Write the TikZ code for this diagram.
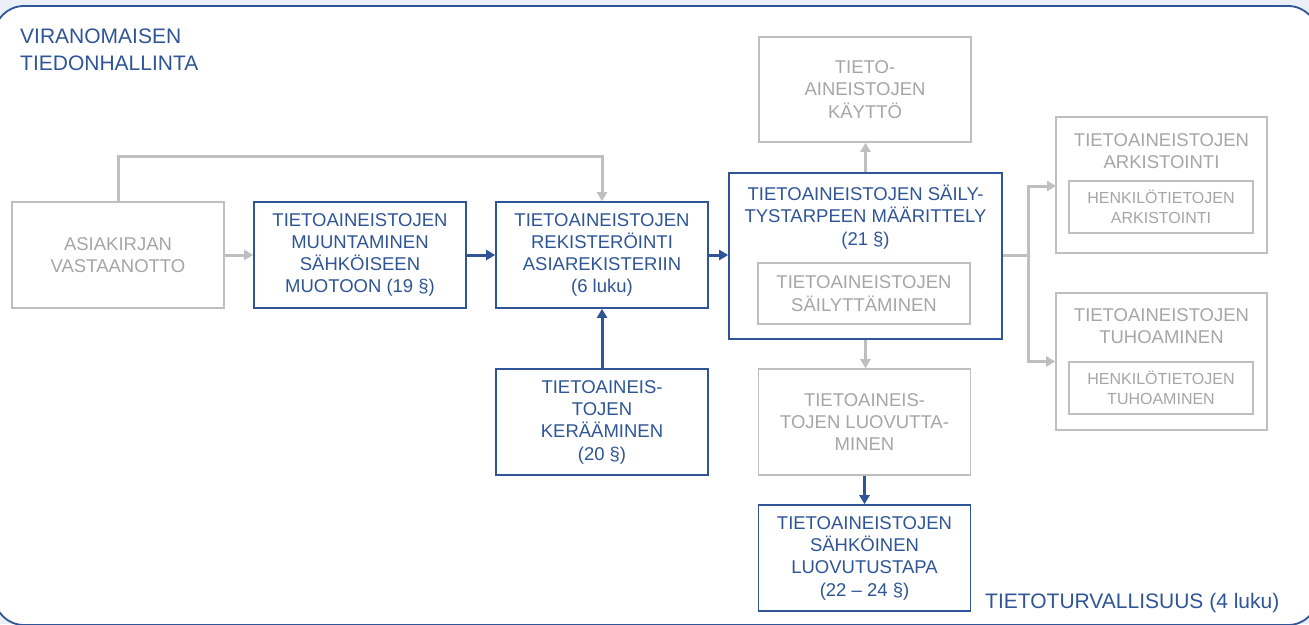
\documentclass[tikz,border=0pt]{standalone}
\usepackage{fontspec}
\setmainfont{Liberation Sans}
\usetikzlibrary{arrows.meta,calc}
\definecolor{dblue}{HTML}{2F5597}
\definecolor{gline}{HTML}{BFBFBF}
\definecolor{gtext}{HTML}{A6A6A6}
\definecolor{bgc}{HTML}{EAEFF8}
\newcommand\bfs{\fontsize{18.5}{22.3}\selectfont}
\newcommand\sfs{\fontsize{16}{19.5}\selectfont}
\newcommand\tfs{\fontsize{21}{26.5}\selectfont}
\tikzset{
  bbox/.style={draw=dblue, line width=1.6pt, text=dblue, align=center, font=\bfs, inner sep=0pt, minimum width=212pt, minimum height=106pt},
  gbox/.style={draw=gline, line width=1.6pt, text=gtext, align=center, font=\bfs, inner sep=0pt, minimum width=212pt, minimum height=106pt},
  btext/.style={text=dblue, align=center, font=\bfs, inner sep=0pt},
  gtxt/.style={text=gtext, align=center, font=\bfs, inner sep=0pt},
  barrow/.style={draw=dblue, line width=3pt, -{Triangle[length=9pt,width=10pt]}},
  garrow/.style={draw=gline, line width=3pt, -{Triangle[length=9pt,width=10pt]}},
  gline/.style={draw=gline, line width=3pt},
}
\begin{document}
\begin{tikzpicture}[x=1pt,y=-1pt]
\useasboundingbox (0,0) rectangle (1309,624);
\clip (0,0) rectangle (1309,624);
\fill[bgc] (0,0) rectangle (1309,624);
\draw[dblue, line width=1.8pt, fill=white, rounded corners=30pt] (-6,6) rectangle (1318,625);

\node[text=dblue, align=left, font=\tfs, inner sep=0pt, anchor=west] (title) at (20,50) {VIRANOMAISEN\\TIEDONHALLINTA};
\node[text=dblue, font=\tfs, inner sep=0pt, anchor=west] (foot) at (985,603) {TIETOTURVALLISUUS (4 luku)};

\node[gbox] (b1) at (118,255) {ASIAKIRJAN\\VASTAANOTTO};
\node[bbox] (b2) at (360,255) {TIETOAINEISTOJEN\\MUUNTAMINEN\\SÄHKÖISEEN\\MUOTOON (19 §)};
\node[bbox] (b3) at (602,255) {TIETOAINEISTOJEN\\REKISTERÖINTI\\ASIAREKISTERIIN\\(6 luku)};
\node[bbox] (b5) at (602,422) {TIETOAINEIS-\\TOJEN\\KERÄÄMINEN\\(20 §)};

\node[bbox, minimum width=273pt, minimum height=166pt] (b4) at (865.5,256) {};
\node[btext] (b4t) at (865.5,217) {TIETOAINEISTOJEN SÄILY-\\TYSTARPEEN MÄÄRITTELY\\(21 §)};
\node[gbox, minimum width=212pt, minimum height=61pt] (b4i) at (864,293.5) {TIETOAINEISTOJEN\\SÄILYTTÄMINEN};

\node[gbox, minimum height=105pt] (kay) at (865,89.5) {TIETO-\\AINEISTOJEN\\KÄYTTÖ};
\node[gbox] (luo) at (864.5,422) {TIETOAINEIS-\\TOJEN LUOVUTTA-\\MINEN};
\node[bbox] (sah) at (864.5,558) {TIETOAINEISTOJEN\\SÄHKÖINEN\\LUOVUTUSTAPA\\(22 -- 24 §)};

\node[gbox, minimum width=211pt, minimum height=136pt] (ark) at (1161.5,185) {};
\node[gtxt] (arkt) at (1161.5,151) {TIETOAINEISTOJEN\\ARKISTOINTI};
\node[gbox, font=\sfs, minimum width=184pt, minimum height=52pt] (arki) at (1161,207) {HENKILÖTIETOJEN\\ARKISTOINTI};

\node[gbox, minimum width=211pt, minimum height=137pt] (tuh) at (1161.5,361.5) {};
\node[gtxt] (tuht) at (1161.5,326) {TIETOAINEISTOJEN\\TUHOAMINEN};
\node[gbox, font=\sfs, minimum width=184pt, minimum height=52pt] (tuhi) at (1161,388) {HENKILÖTIETOJEN\\TUHOAMINEN};

% connectors
\draw[garrow] (b1) -- (b2);
\draw[barrow] (b2) -- (b3);
\draw[barrow] (b3.east) -- (b4.west |- b3.east);
\coordinate (loop) at (602,156);
\draw[garrow] (b1.north) |- (loop) -- (b3.north);
\draw[barrow] (b5) -- (b3);
\draw[garrow] (b4.north) -- (kay.south -| b4.north);
\draw[garrow] (b4.south) -- (luo.north -| b4.south);
\draw[barrow] (luo) -- (sah);
\coordinate (br) at (1028,255);
\draw[gline] (b4.east |- br) -- (br);
\draw[garrow] (br) |- (1056,186);
\draw[garrow] (br) |- (tuh.west);
\end{tikzpicture}
\end{document}
